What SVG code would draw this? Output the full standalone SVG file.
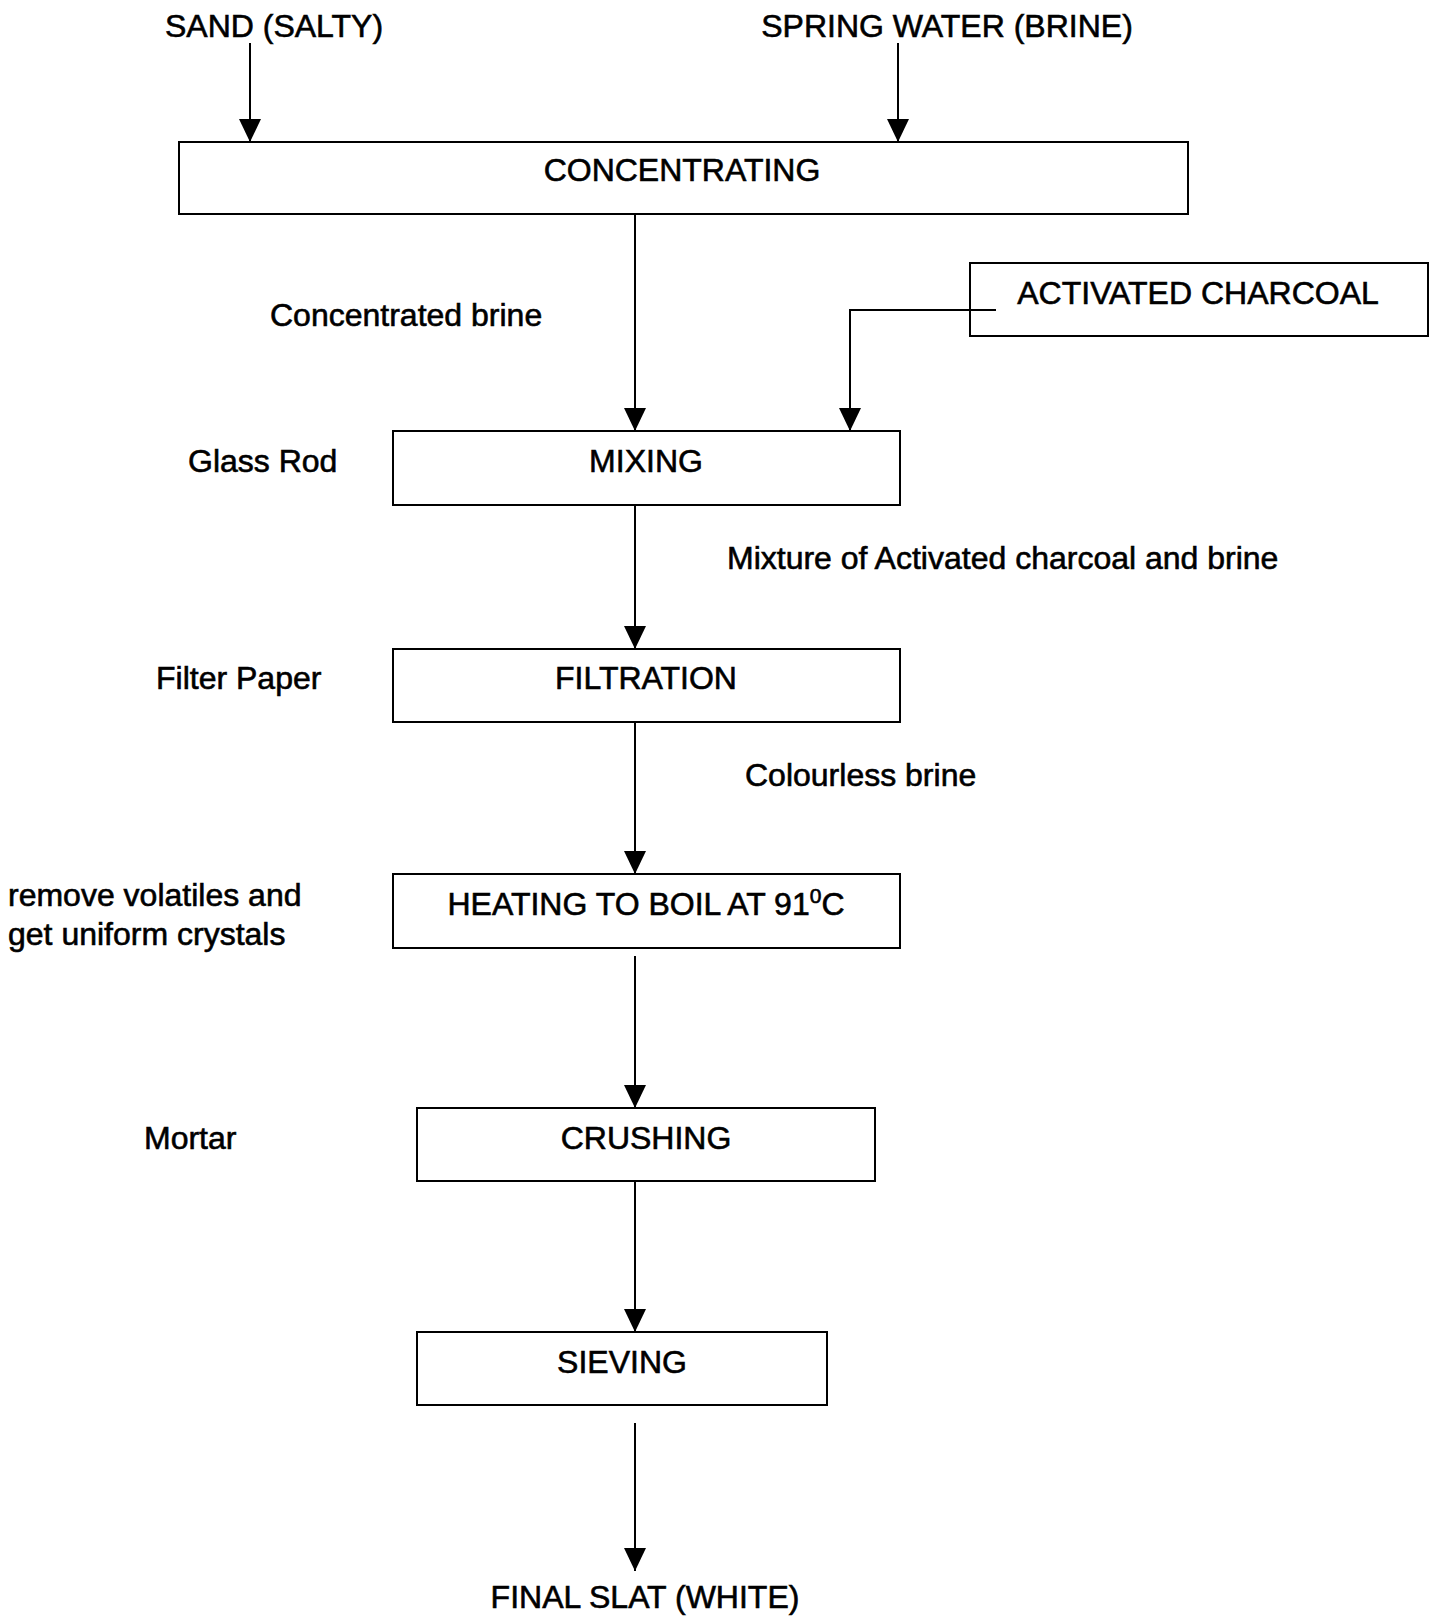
<svg xmlns="http://www.w3.org/2000/svg" width="1441" height="1616" viewBox="0 0 1441 1616">
<defs>
<marker id="ah" markerUnits="userSpaceOnUse" markerWidth="24" markerHeight="23" refX="23" refY="11" orient="auto" viewBox="0 0 24 23">
<path d="M0,0 L23,11 L0,22 z" fill="#000"/>
</marker>
<style>
text{font-family:"Liberation Sans",Arial,sans-serif;font-size:32px;fill:#000;stroke:#000;stroke-width:0.6}
.c{text-anchor:middle}
.box{fill:#fff;stroke:#000;stroke-width:2}
.ln{fill:none;stroke:#000;stroke-width:2;marker-end:url(#ah)}
</style>
</defs>
<rect width="1441" height="1616" fill="#fff"/>
<g id="connectors">
<line class="ln" x1="250" y1="43" x2="250" y2="142"/>
<line class="ln" x1="898" y1="43" x2="898" y2="142"/>
<line class="ln" x1="635" y1="214" x2="635" y2="431"/>
<polyline class="ln" points="996,310 850,310 850,431"/>
<line class="ln" x1="635" y1="505" x2="635" y2="649"/>
<line class="ln" x1="635" y1="722" x2="635" y2="874"/>
<line class="ln" x1="635" y1="956" x2="635" y2="1108"/>
<line class="ln" x1="635" y1="1181" x2="635" y2="1332"/>
<line class="ln" x1="635" y1="1423" x2="635" y2="1571"/>
</g>
<g id="sand"><text class="c" x="274" y="37">SAND (SALTY)</text></g>
<g id="spring"><text class="c" x="947" y="37">SPRING WATER (BRINE)</text></g>
<g id="concentrating">
<rect class="box" x="179" y="142" width="1009" height="72"/>
<text class="c" x="682" y="181">CONCENTRATING</text>
</g>
<g id="charcoal">
<rect class="box" x="970" y="263" width="458" height="73" style="fill:none"/>
<text class="c" x="1198" y="304">ACTIVATED CHARCOAL</text>
</g>
<g id="label-concentrated"><text x="270" y="326">Concentrated brine</text></g>
<g id="mixing">
<rect class="box" x="393" y="431" width="507" height="74"/>
<text class="c" x="646" y="472">MIXING</text>
</g>
<g id="label-glassrod"><text x="188" y="472">Glass Rod</text></g>
<g id="label-mixture"><text x="727" y="569">Mixture of Activated charcoal and brine</text></g>
<g id="filtration">
<rect class="box" x="393" y="649" width="507" height="73"/>
<text class="c" x="646" y="689">FILTRATION</text>
</g>
<g id="label-filter"><text x="156" y="689">Filter Paper</text></g>
<g id="label-colourless"><text x="745" y="786">Colourless brine</text></g>
<g id="heating">
<rect class="box" x="393" y="874" width="507" height="74"/>
<text class="c" x="646" y="915">HEATING TO BOIL AT 91<tspan font-size="21" dy="-12">0</tspan><tspan dy="12">C</tspan></text>
</g>
<g id="label-remove">
<text x="8" y="906">remove volatiles and</text>
<text x="8" y="945">get uniform crystals</text>
</g>
<g id="crushing">
<rect class="box" x="417" y="1108" width="458" height="73"/>
<text class="c" x="646" y="1149">CRUSHING</text>
</g>
<g id="label-mortar"><text x="144" y="1149">Mortar</text></g>
<g id="sieving">
<rect class="box" x="417" y="1332" width="410" height="73"/>
<text class="c" x="622" y="1373">SIEVING</text>
</g>
<g id="final"><text class="c" x="645" y="1608">FINAL SLAT (WHITE)</text></g>
</svg>
